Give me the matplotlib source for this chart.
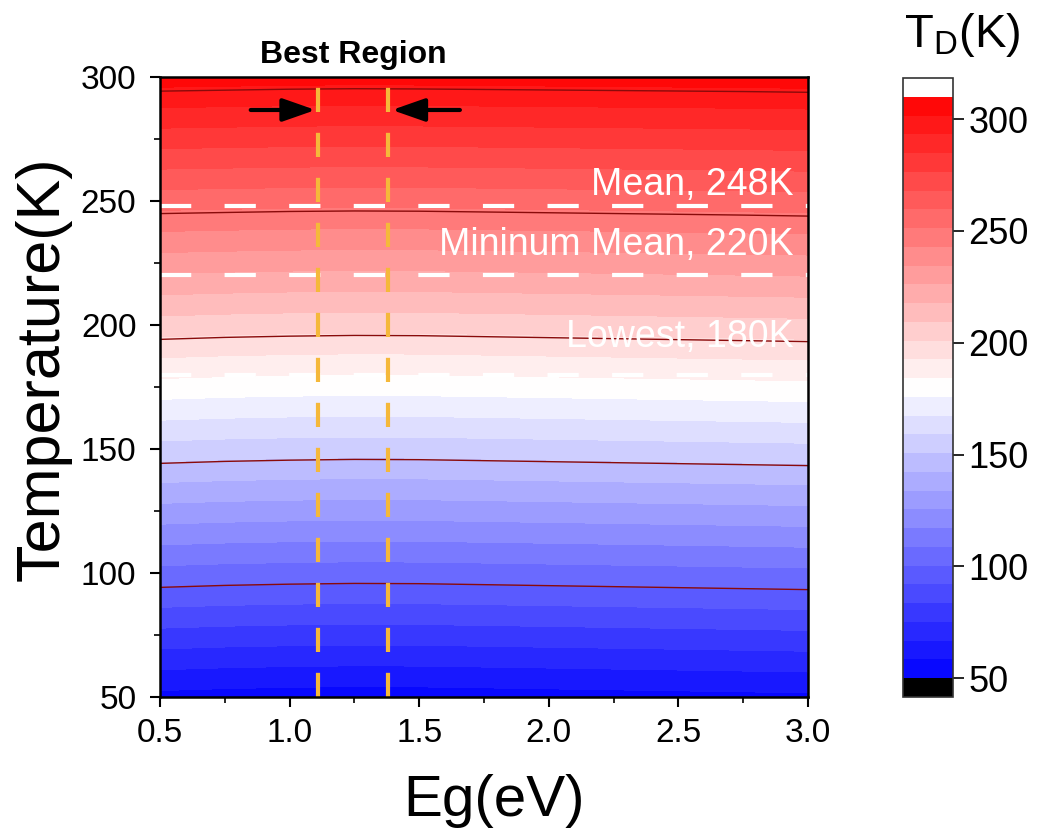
import numpy as np
import matplotlib
matplotlib.use("Agg")
import matplotlib.pyplot as plt
from matplotlib.ticker import MultipleLocator

plt.rcParams['font.family'] = ['Liberation Sans', 'DejaVu Sans']

# ---- data ----
eg = [0.5, 0.75, 1.0, 1.25, 1.5, 1.75, 2.0, 2.25, 2.5, 2.75, 3.0]
temperature = [50, 100, 150, 200, 250, 300]
td = [
    [55.8, 55.0, 54.5, 54.2, 54.3, 54.7, 55.1, 55.5, 55.9, 56.3, 56.7],
    [105.8, 105.0, 104.5, 104.2, 104.3, 104.7, 105.1, 105.5, 105.9, 106.3, 106.7],
    [155.8, 155.0, 154.5, 154.2, 154.3, 154.7, 155.1, 155.5, 155.9, 156.3, 156.7],
    [205.8, 205.0, 204.5, 204.2, 204.3, 204.7, 205.1, 205.5, 205.9, 206.3, 206.7],
    [255.0, 254.6, 254.2, 254.0, 254.1, 254.4, 254.7, 255.0, 255.3, 255.6, 256.0],
    [305.8, 305.4, 305.0, 304.8, 304.9, 305.1, 305.3, 305.5, 305.7, 305.9, 306.2],
]
contour_levels = [100, 150, 200, 250, 300]
best_region = [1.11, 1.38]
ref_lines = [248, 220, 180]
ref_labels = ["Mean, 248K", "Mininum Mean, 220K", "Lowest, 180K"]
ref_label_y = [256.5, 232.3, 195.2]
x_ticks = [0.5, 1.0, 1.5, 2.0, 2.5, 3.0]
y_ticks = [50, 100, 150, 200, 250, 300]
cbar_ticks = [50, 100, 150, 200, 250, 300]

# ---- figure ----
fig = plt.figure(figsize=(10.48, 8.38), dpi=100)
ax = fig.add_axes([160/1048, 1-697/838, 648/1048, 620/838])
cax = fig.add_axes([903/1048, 1-697/838, 50/1048, 619/838])

X, Y = np.meshgrid(eg, temperature)
Z = np.array(td)
levels = np.linspace(50, 310, 32)
cmap = plt.get_cmap('bwr').copy()
cmap.set_under('black')
cmap.set_over('white')
cf = ax.contourf(X, Y, Z, levels=levels, cmap=cmap, extend='both')
ax.contour(X, Y, Z, levels=contour_levels, colors='#8a0a0a', linewidths=1.0)

# reference horizontal dashed lines
for yv in ref_lines:
    ln, = ax.plot([0.5, 3.0], [yv, yv], color='white', lw=3)
    ln.set_dashes((7.5, 8))
for lab, yl in zip(ref_labels, ref_label_y):
    ax.text(2.945, yl, lab, color='white', fontsize=27, ha='right', va='center', zorder=5)

# best region vertical lines
for xv in best_region:
    ln, = ax.plot([xv, xv], [50, 300], color='#F5B83A', lw=3)
    ln.set_dashes((5.8, 5.0))

# arrows
ax.annotate('', xy=(1.10, 286.7), xytext=(0.85, 286.7),
            arrowprops=dict(arrowstyle='-|>,head_length=0.8,head_width=0.28',
                            color='black', lw=3, mutation_scale=25, shrinkA=0, shrinkB=0))
ax.annotate('', xy=(1.395, 286.7), xytext=(1.657, 286.7),
            arrowprops=dict(arrowstyle='-|>,head_length=0.8,head_width=0.28',
                            color='black', lw=3, mutation_scale=25, shrinkA=0, shrinkB=0))
ax.text(1.245, 1.035, 'Best Region', transform=ax.get_xaxis_transform(),
        fontsize=23, fontweight='bold', ha='center', va='center')

ax.set_xlim(0.5, 3.0)
ax.set_ylim(50, 300)
ax.set_xticks(x_ticks)
ax.set_xticklabels(['%.1f' % v for v in x_ticks])
ax.set_yticks(y_ticks)
ax.xaxis.set_minor_locator(MultipleLocator(0.25))
ax.yaxis.set_minor_locator(MultipleLocator(25))
ax.tick_params(which='major', direction='out', length=7, width=1.5, labelsize=24)
ax.tick_params(axis='y', which='major', pad=10)
ax.tick_params(axis='x', which='major', pad=8)
ax.tick_params(which='minor', direction='out', length=4, width=1.2)
for s in ax.spines.values():
    s.set_linewidth(1.8)
ax.set_xlabel('Eg(eV)', fontsize=42)
ax.set_ylabel('Temperature(K)', fontsize=44)
ax.xaxis.set_label_coords(0.515, -0.124)
ax.yaxis.set_label_coords(-0.137, 0.53)

cb = fig.colorbar(cf, cax=cax, extendrect=True, extendfrac='auto', ticks=cbar_ticks)
cb.outline.set_linewidth(1.2)
cb.outline.set_edgecolor('#333333')
cax.tick_params(direction='out', length=8, width=1.2, labelsize=26, pad=3)
cb.minorticks_off()
fig.text(962/1048, 1-35/838, r'$\mathregular{T_D}$(K)', fontsize=34, ha='center', va='center')

fig.savefig('out.png', dpi=100)
